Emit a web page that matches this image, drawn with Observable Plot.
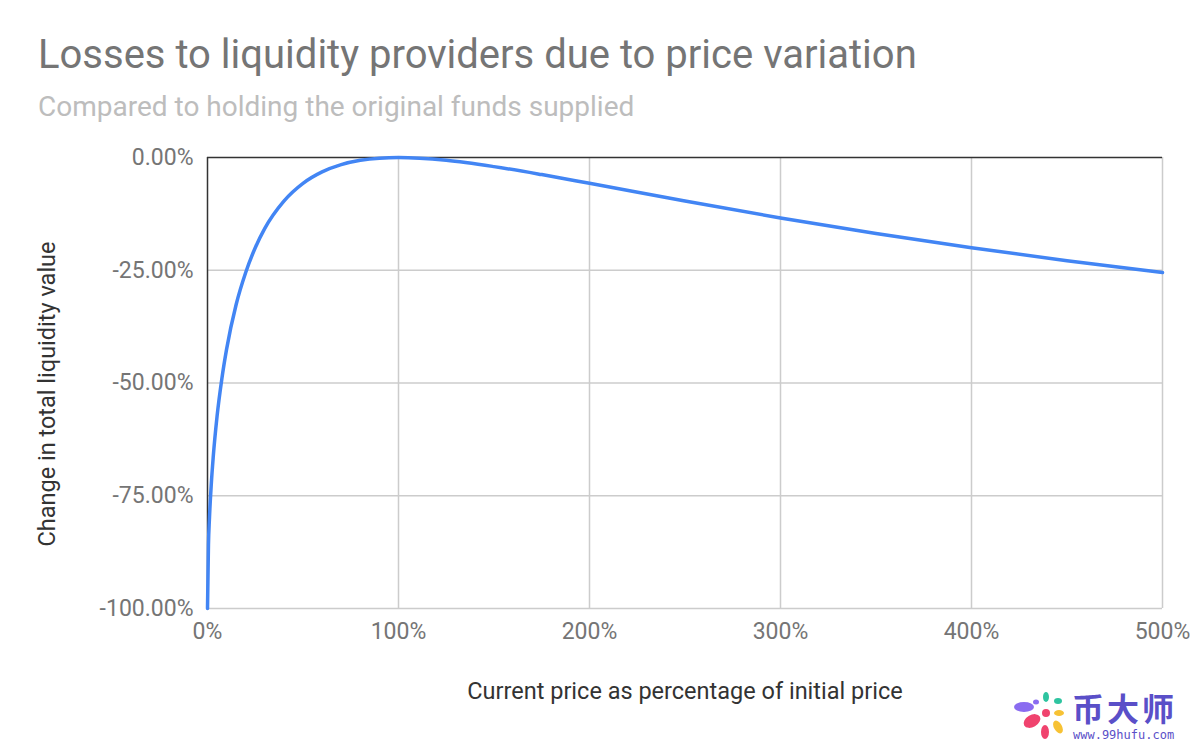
<!DOCTYPE html>
<html><head><meta charset="utf-8">
<script src="https://cdn.jsdelivr.net/npm/d3@7"></script>
<script src="https://cdn.jsdelivr.net/npm/@observablehq/plot@0.6"></script>
<style>
body{margin:0;background:#fff;font-family:Roboto,sans-serif;width:1200px;height:742px;overflow:hidden;position:relative}
#head{height:130px;position:relative}
#title{position:absolute;left:38px;top:35px;font-size:40px;color:#757575;white-space:nowrap;line-height:1}
#sub{position:absolute;left:38px;top:93px;font-size:28px;color:#bdbdbd;white-space:nowrap;line-height:1}
#wm{position:absolute;left:1012px;top:690px;width:185px;height:52px}
#wm .cn{position:absolute;left:60px;top:1px;font-family:"Noto Sans CJK SC";font-size:32px;font-weight:bold;color:#5a4fc8;letter-spacing:3px;line-height:1}
#wm .url{position:absolute;left:61px;top:39px;font-family:"DejaVu Sans Mono",monospace;font-size:12px;color:#5a4fc8;line-height:1}
</style></head><body>
<div id="head"><div id="title">Losses to liquidity providers due to price variation</div>
<div id="sub">Compared to holding the original funds supplied</div></div>
<div id="chart"></div>
<div id="wm">
<svg width="58" height="52" style="position:absolute;left:0;top:0">
<ellipse cx="12" cy="17" rx="10" ry="5" fill="#8a6cf0"/>
<ellipse cx="20" cy="31" rx="9" ry="6" fill="#f0436e" transform="rotate(-30 20 31)"/>
<ellipse cx="33" cy="42" rx="4" ry="7" fill="#f0436e"/>
<ellipse cx="46" cy="37" rx="4" ry="7" fill="#f7c234" transform="rotate(-30 46 37)"/>
<ellipse cx="47" cy="23" rx="5" ry="3" fill="#f7c234"/>
<ellipse cx="46" cy="11" rx="4" ry="3" fill="#2ec4a0"/>
<ellipse cx="34" cy="7" rx="3" ry="5" fill="#2ec4a0"/>
<ellipse cx="24" cy="12" rx="3" ry="2.5" fill="#8a6cf0"/>
<circle cx="34" cy="23" r="4" fill="#f0436e"/>
</svg>
<div class="cn">币大师</div>
<div class="url">www.99hufu.com</div>
</div>
<script>
// Values (price as % of initial, change in value %)
const pricePct = [0, 0.5, 1, 2, 3, 5, 7.5, 10, 15, 20, 25, 30, 40, 50, 60, 70, 80, 90, 100, 125, 150, 175, 200, 250, 300, 350, 400, 450, 500];
const changePct = [-100, -85.9, -80.2, -72.3, -66.4, -57.4, -49.1, -42.5, -32.6, -25.5, -20.0, -15.7, -9.65, -5.72, -3.18, -1.57, -0.62, -0.14, 0, -0.62, -2.02, -3.79, -5.72, -9.65, -13.4, -16.85, -20.0, -22.9, -25.5];
const xTicks = [0, 100, 200, 300, 400, 500];
const yTicks = [0, -25, -50, -75, -100];
const yTitle = "Change in total liquidity value";
const xTitle = "Current price as percentage of initial price";

const data = pricePct.map((p, i) => ({p, c: changePct[i]}));

const chart = Plot.plot({
  width: 1200,
  height: 612,
  marginTop: 27,
  marginBottom: 134,
  marginLeft: 207,
  marginRight: 38,
  style: {fontFamily: "Roboto, sans-serif", fontSize: "23px", color: "#757575", background: "#fff"},
  x: {domain: [0, 500], ticks: xTicks},
  y: {domain: [-100, 0], ticks: yTicks},
  marks: [
    Plot.ruleY(yTicks.filter(d => d !== 0), {stroke: "#cccccc", strokeWidth: 1.5, strokeOpacity: 1}),
    Plot.ruleX(xTicks.filter(d => d !== 0), {stroke: "#cccccc", strokeWidth: 1.5, strokeOpacity: 1}),
    Plot.ruleX([0], {stroke: "#333333", strokeWidth: 1.5}),
    Plot.ruleY([0], {stroke: "#333333", strokeWidth: 1.5}),
    Plot.line(data, {x: "p", y: "c", stroke: "#4285f4", strokeWidth: 3.5, curve: "monotone-x"}),
    Plot.axisY(yTicks, {tickSize: 0, tickPadding: 14, tickFormat: d => d.toFixed(2) + "%", fill: "#757575", fontSize: 23, label: null}),
    Plot.axisX(xTicks, {tickSize: 0, tickPadding: 14, tickFormat: d => d + "%", fill: "#757575", fontSize: 23, label: null}),
    Plot.text([yTitle], {text: d => d, frameAnchor: "left", textAnchor: "middle", lineAnchor: "middle", rotate: -90, dx: -160, dy: 11, fontSize: 23.5, fill: "#333333"}),
    Plot.text([xTitle], {text: d => d, frameAnchor: "bottom", textAnchor: "middle", lineAnchor: "middle", dy: 83, fontSize: 23.5, fill: "#333333"})
  ]
});
document.getElementById("chart").appendChild(chart);
</script>
</body></html>
